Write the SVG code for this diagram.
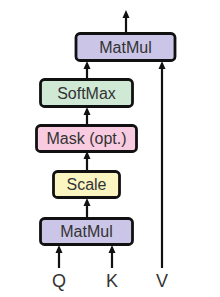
<svg xmlns="http://www.w3.org/2000/svg" width="220" height="297" viewBox="0 0 220 297">
<defs>
<marker id="ah" markerWidth="8" markerHeight="8" refX="4" refY="4" orient="auto" markerUnits="userSpaceOnUse">
<path d="M0,0.5 L8,4 L0,7.5 Z" fill="#111"/>
</marker>
<style>
.box{stroke:#111;stroke-width:2.8}
.lbl{font-family:"Liberation Sans",Arial,sans-serif;font-size:16px;fill:#333;text-anchor:middle;dominant-baseline:central}
.in{font-family:"Liberation Sans",Arial,sans-serif;font-size:18px;fill:#333;text-anchor:middle}
.c{stroke:#111;stroke-width:2.2;fill:none;marker-end:url(#ah)}
</style>
</defs>
<rect width="220" height="297" fill="#fff"/>
<g id="connectors">
<line class="c" x1="126" y1="33" x2="126" y2="14"/>
<line class="c" x1="87" y1="79" x2="87" y2="65"/>
<line class="c" x1="87" y1="125" x2="87" y2="111"/>
<line class="c" x1="87" y1="171" x2="87" y2="155"/>
<line class="c" x1="87" y1="218" x2="87" y2="202"/>
<line class="c" x1="59" y1="268" x2="59" y2="249"/>
<line class="c" x1="112" y1="268" x2="112" y2="249"/>
<line class="c" x1="162" y1="268" x2="162" y2="65"/>
</g>
<g id="matmul_top">
<rect class="box" x="76" y="33.5" width="99" height="27" rx="4" fill="#cbc5e8"/>
<text class="lbl" x="125.5" y="47.5">MatMul</text>
</g>
<g id="softmax">
<rect class="box" x="40.5" y="79.5" width="92" height="27" rx="4" fill="#d0e9d5"/>
<text class="lbl" x="86.5" y="93.5">SoftMax</text>
</g>
<g id="mask">
<rect class="box" x="36.5" y="125.5" width="100" height="26" rx="4" fill="#f8cbe0"/>
<text class="lbl" x="86.5" y="138.5">Mask (opt.)</text>
</g>
<g id="scale">
<rect class="box" x="53.5" y="171.5" width="66" height="26" rx="4" fill="#fbf5c2"/>
<text class="lbl" x="86.5" y="184.5">Scale</text>
</g>
<g id="matmul_bottom">
<rect class="box" x="40.5" y="218.5" width="92" height="26" rx="4" fill="#cbc5e8"/>
<text class="lbl" x="86.5" y="231.5">MatMul</text>
</g>
<g id="inputs">
<text class="in" x="59" y="287">Q</text>
<text class="in" x="112" y="287">K</text>
<text class="in" x="162" y="287">V</text>
</g>
</svg>
